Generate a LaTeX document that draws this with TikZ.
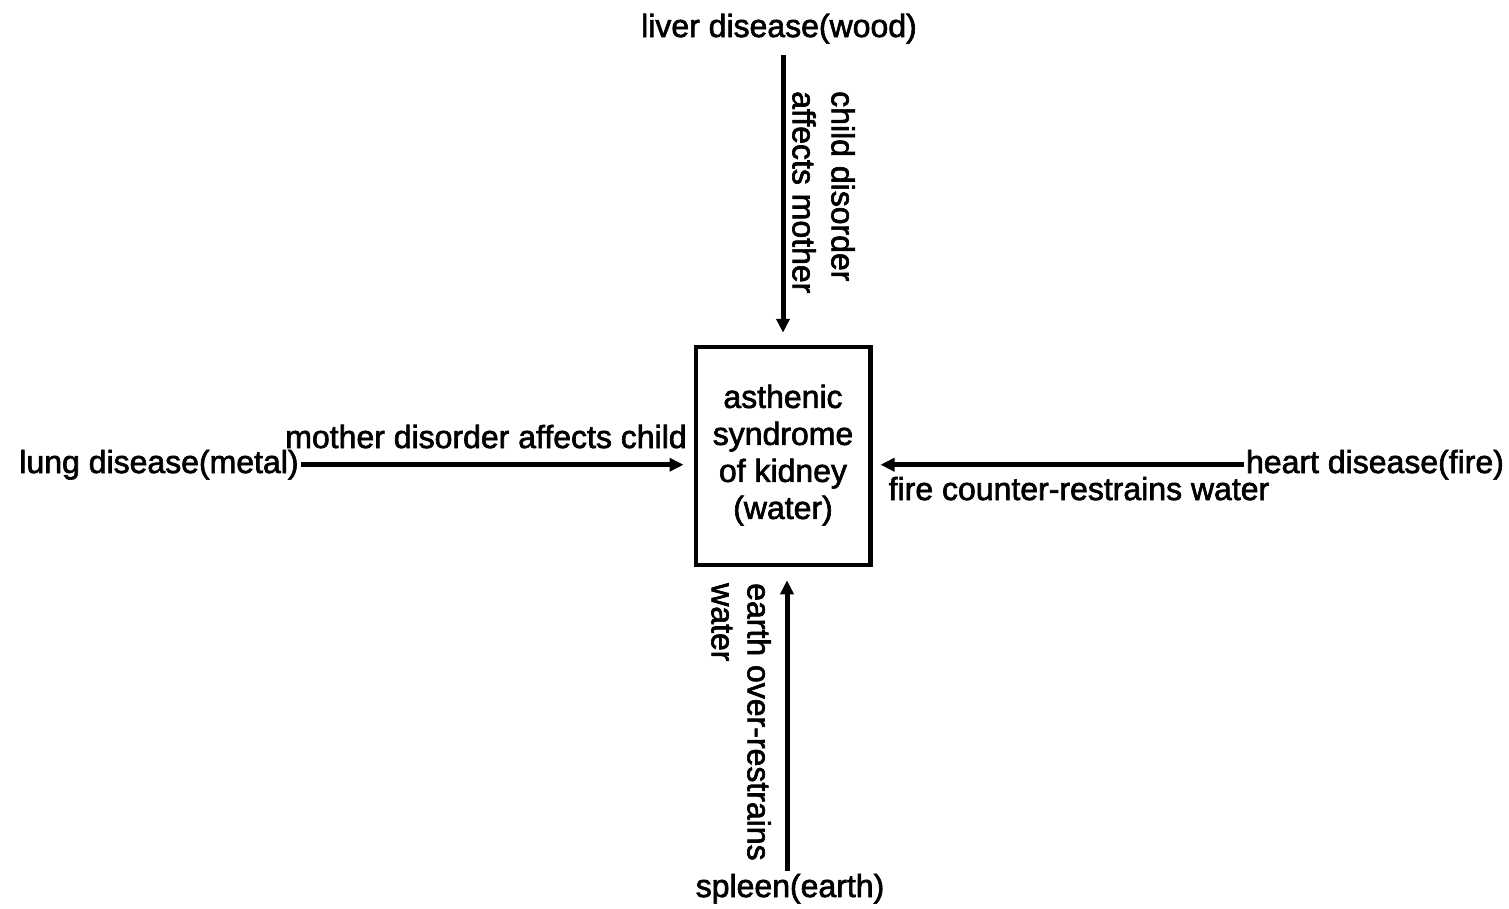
\documentclass[tikz,border=0pt]{standalone}
\usepackage{fontspec}
\newfontfamily\lblfont{Liberation Sans}[FakeBold=2]
\usetikzlibrary{arrows.meta}
\tikzset{
  lbl/.style={inner sep=0pt, anchor=base},
  rlbl/.style={inner sep=0pt, rotate=-90, anchor=north west, align=left},
  conn/.style={line width=5pt, -{Triangle[length=14pt,width=13pt]}},
  kbox/.style={draw, line width=4.5pt, minimum width=174.5pt, minimum height=218pt, align=center, inner sep=0pt}
}
\begin{document}
\begin{tikzpicture}[x=1pt,y=-1pt,font=\lblfont\fontsize{32}{37}\selectfont]
\useasboundingbox (0,0) rectangle (1509,908);
\node[kbox] (kidney) at (783,456) {\raisebox{-6pt}{\begin{tabular}{@{}c@{}}asthenic\\syndrome\\of kidney\\(water)\end{tabular}}};
\node[lbl] (liver) at (779,37) {liver disease(wood)};
\node[lbl] (lung) at (159,473) {lung disease(metal)};
\node[lbl] (mother) at (486,448) {mother disorder affects child};
\node[lbl] (heart) at (1375,473) {heart disease(fire)};
\node[lbl] (fire) at (1079,500) {fire counter-restrains water};
\node[lbl] (spleen) at (790,897) {spleen(earth)};
\node[rlbl] (childlbl) at (855,91) {child disorder\\[2pt]affects mother};
\node[rlbl] (earthlbl) at (771,583) {earth over-restrains\\[-1pt]water};
\draw[conn, shorten <=11pt, shorten >=12pt] (kidney.north |- liver.south) -- (kidney.north);
\draw[conn, shorten <=2pt, shorten >=10pt] (lung.east) -- (lung.east -| kidney.west);
\draw[conn, shorten <=2pt, shorten >=8pt] (heart.west) -- (heart.west -| kidney.east);
\draw[conn, shorten <=3pt, shorten >=13pt] ([xshift=-3pt]spleen.north) -- ([xshift=-3pt]spleen.north |- kidney.south);
\end{tikzpicture}
\end{document}
